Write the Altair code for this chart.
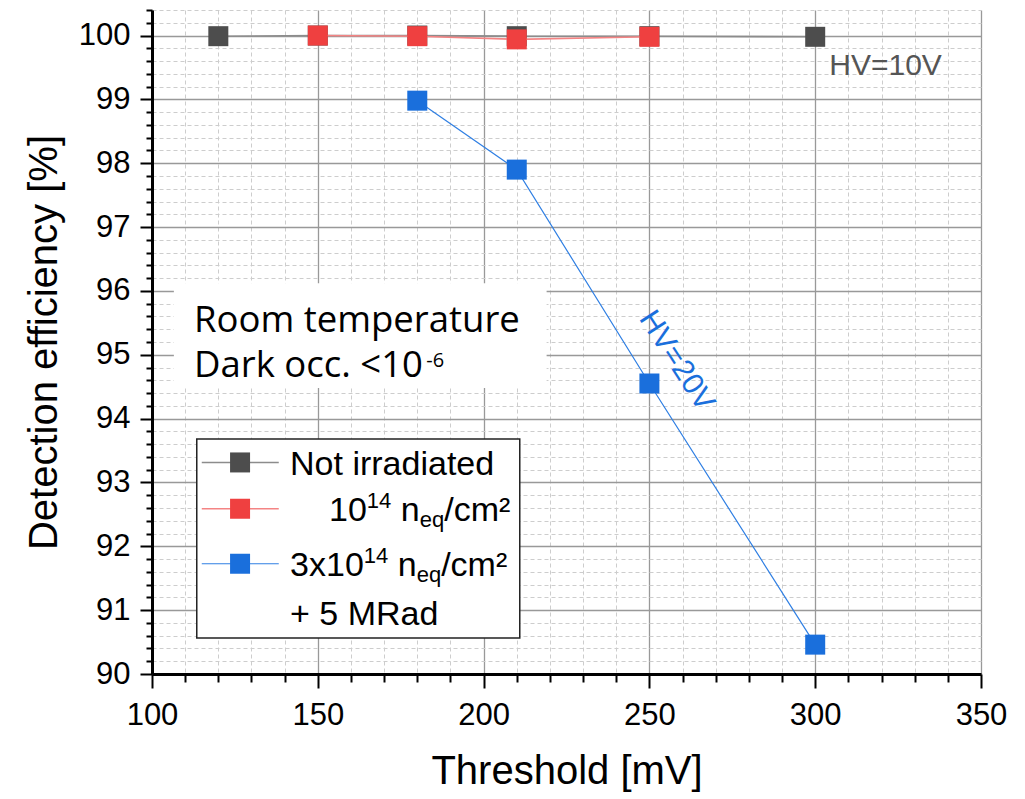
import altair as alt
import pandas as pd

# ---- measured detection efficiency vs. discriminator threshold ----
thr_not_irr = [120, 150, 180, 210, 250, 300]
eff_not_irr = [99.99, 100.0, 100.0, 99.99, 99.99, 99.98]

thr_1e14 = [150, 180, 210, 250]
eff_1e14 = [100.0, 99.99, 99.94, 99.98]

thr_3e14 = [180, 210, 250, 300]
eff_3e14 = [98.98, 97.90, 94.55, 90.46]

series_names = ["Not irradiated", "1e14", "3e14 + 5 MRad"]
marker_colors = ["#4d4d4d", "#ef4040", "#1a6fdc"]
line_colors = ["#8c8c8c", "#f48484", "#2f7fe3"]
line_widths = [1.6, 1.6, 1.2]

# ---- axes ----
x_labels = [100, 150, 200, 250, 300, 350]
y_labels = [90, 91, 92, 93, 94, 95, 96, 97, 98, 99, 100]
x_minor_step = 10
y_minor_step = 0.2

X_DOMAIN = [100, 350]
Y_DOMAIN = [90, 100.4]
W, H = 829, 664
px_x = W / (X_DOMAIN[1] - X_DOMAIN[0])
px_y = H / (Y_DOMAIN[1] - Y_DOMAIN[0])

x_ticks = list(range(X_DOMAIN[0], X_DOMAIN[1] + 1, x_minor_step))
y_ticks = [round(Y_DOMAIN[0] + y_minor_step * i, 1)
           for i in range(int(round((Y_DOMAIN[1] - Y_DOMAIN[0]) / y_minor_step)) + 1)]

FONT = "Liberation Sans"
X_MAJOR = "indexof([%s], datum.value) >= 0" % ",".join(str(v) for v in x_labels)
Y_MAJOR = "abs(datum.value - round(datum.value)) < 0.001"


def cond(test, major, minor):
    return {"condition": {"test": test, "value": major}, "value": minor}


def make_axis(title, values, test, title_pad, label_pad, major_len, minor_len):
    return alt.Axis(
        title=title,
        values=values,
        tickCount=len(values) + 10,
        labelExpr=f"({test}) ? format(datum.value, 'd') : ''",
        labelOverlap=False,
        labelFlush=False,
        labelFont=FONT,
        labelFontSize=31,
        labelColor="black",
        labelPadding=label_pad,
        tickColor="black",
        tickWidth=2,
        tickSize=cond(test, major_len, minor_len),
        domainColor="black",
        domainWidth=3,
        grid=True,
        gridColor=cond(test, "#999999", "#cdcdcd"),
        gridDash=cond(test, [], [4, 3]),
        gridWidth=cond(test, 1.3, 1),
        titleFont=FONT,
        titleFontSize=40,
        titleFontWeight="normal",
        titleColor="black",
        titlePadding=title_pad,
    )


x_enc = alt.X("thr:Q", scale=alt.Scale(domain=X_DOMAIN, nice=False, zero=False),
              axis=make_axis("Threshold [mV]", x_ticks, X_MAJOR, 21, 12, 14, 8))
y_enc = alt.Y("eff:Q", scale=alt.Scale(domain=Y_DOMAIN, nice=False, zero=False),
              axis=make_axis("Detection efficiency [%]", y_ticks, Y_MAJOR, 14, 10, 12, 6))

layers = []

# ---- "Room temperature" note, white box behind it ----
note_box = pd.DataFrame({"thr": [106.6], "thr2": [219.0], "eff": [96.12], "eff2": [94.48]})
layers.append(
    alt.Chart(note_box).mark_rect(color="white").encode(
        x=x_enc, x2="thr2:Q", y=y_enc, y2="eff2:Q")
)
note_text = pd.DataFrame({
    "thr": [112.67, 112.67, 182.7],
    "eff": [95.36, 94.656, 94.813],
    "label": ["Room temperature", "Dark occ. <10", "-6"],
    "size": [36.5, 36.5, 20],
})
layers.append(
    alt.Chart(note_text).mark_text(align="left", baseline="alphabetic",
                                   font="Open Sans", color="black").encode(
        x="thr:Q", y="eff:Q", text="label:N", size=alt.Size("size:Q", scale=None))
)

# ---- data series ----
all_thr = [thr_not_irr, thr_1e14, thr_3e14]
all_eff = [eff_not_irr, eff_1e14, eff_3e14]
for name, xs, ys, mc, lc, lw in zip(series_names, all_thr, all_eff,
                                     marker_colors, line_colors, line_widths):
    df = pd.DataFrame({"thr": xs, "eff": ys, "series": name})
    layers.append(alt.Chart(df).mark_line(color=lc, strokeWidth=lw).encode(x="thr:Q", y="eff:Q"))
    layers.append(alt.Chart(df).mark_square(color=mc, size=400, opacity=1).encode(x="thr:Q", y="eff:Q"))

# ---- HV labels ----
layers.append(
    alt.Chart(pd.DataFrame({"thr": [304.25], "eff": [99.38], "label": ["HV=10V"]}))
    .mark_text(align="left", baseline="alphabetic", font=FONT, fontSize=30, color="#555555")
    .encode(x="thr:Q", y="eff:Q", text="label:N")
)
layers.append(
    alt.Chart(pd.DataFrame({"thr": [258.2], "eff": [94.905], "label": ["HV=20V"]}))
    .mark_text(align="center", baseline="middle", font=FONT, fontSize=30,
               color=marker_colors[2], angle=57)
    .encode(x="thr:Q", y="eff:Q", text="label:N")
)

# ---- hand-built legend (top-left corner anchored in data units) ----
LEG_X, LEG_Y = 113.5, 93.68


def lx(px):
    return LEG_X + px / px_x


def ly(px):
    return LEG_Y - px / px_y


leg_box = pd.DataFrame({"thr": [lx(0)], "thr2": [lx(323)], "eff": [ly(0)], "eff2": [ly(199)]})
layers.append(
    alt.Chart(leg_box).mark_rect(fill="white", stroke="#222222", strokeWidth=1.5).encode(
        x="thr:Q", x2="thr2:Q", y="eff:Q", y2="eff2:Q")
)

row_centers = [23.4, 69.7, 124.7]
for rc, mc, lc, lw in zip(row_centers, marker_colors, line_colors, line_widths):
    seg = pd.DataFrame({"thr": [lx(5)], "thr2": [lx(82)], "eff": [ly(rc)]})
    layers.append(alt.Chart(seg).mark_rule(color=lc, strokeWidth=lw).encode(
        x="thr:Q", x2="thr2:Q", y="eff:Q"))
    pt = pd.DataFrame({"thr": [lx(43.3)], "eff": [ly(rc)]})
    layers.append(alt.Chart(pt).mark_square(color=mc, size=400, opacity=1).encode(
        x="thr:Q", y="eff:Q"))

# text pieces: (text, x offset px, baseline px, font size)
leg_pieces = [
    ("Not irradiated", 93.3, 35.7, 34),
    ("10", 132.3, 82.4, 34), ("14", 170.1, 68.7, 22), ("n", 204.1, 82.4, 34),
    ("eq", 223.0, 88.4, 22), ("/cm²", 247.5, 82.4, 34),
    ("3x10", 93.3, 137.4, 34), ("14", 167.0, 123.7, 22), ("n", 201.0, 137.4, 34),
    ("eq", 219.9, 143.4, 22), ("/cm²", 244.4, 137.4, 34),
    ("+ 5 MRad", 93.3, 185.7, 34),
]
leg_text = pd.DataFrame({
    "thr": [lx(p[1]) for p in leg_pieces],
    "eff": [ly(p[2]) for p in leg_pieces],
    "label": [p[0] for p in leg_pieces],
    "size": [p[3] for p in leg_pieces],
})
layers.append(
    alt.Chart(leg_text).mark_text(align="left", baseline="alphabetic", font=FONT, color="black")
    .encode(x="thr:Q", y="eff:Q", text="label:N", size=alt.Size("size:Q", scale=None))
)

chart = (
    alt.layer(*layers)
    .properties(
        width=W, height=H,
        autosize=alt.AutoSizeParams(type="none"),
        padding={"left": 152, "top": 10, "right": 44, "bottom": 125},
        background="white",
    )
    .configure_view(stroke=None)
)

chart.save("out.html", embed_options={"renderer": "svg", "actions": False})
